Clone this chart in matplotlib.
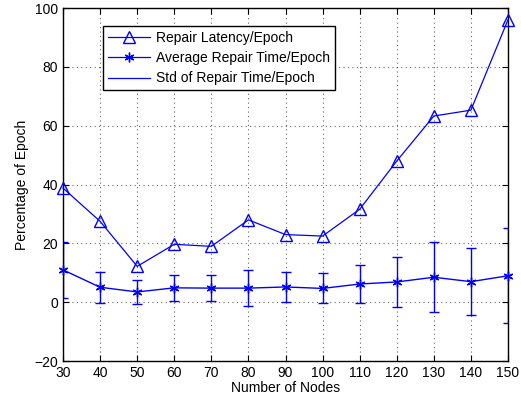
import matplotlib
matplotlib.use("Agg")
import matplotlib.pyplot as plt
from matplotlib.lines import Line2D

plt.rcParams['font.family'] = ['Liberation Sans', 'DejaVu Sans']

nodes = [30, 40, 50, 60, 70, 80, 90, 100, 110, 120, 130, 140, 150]
latency = [38.8, 27.5, 12.2, 19.7, 19.0, 28.0, 23.0, 22.5, 31.6, 48.0, 63.3, 65.3, 96.0]
avg_time = [11.0, 5.1, 3.5, 4.9, 4.8, 4.8, 5.2, 4.7, 6.2, 6.9, 8.5, 7.0, 9.0]
std_time = [9.5, 5.2, 4.2, 4.4, 4.4, 6.0, 5.0, 5.1, 6.4, 8.6, 11.9, 11.3, 16.2]

fig = plt.figure(figsize=(5.21, 4.03), dpi=100)
ax = fig.add_axes([0.121, 0.104, 0.854, 0.876])

blue = '#0000ff'
asterisk = (6, 2, 0)
ax.errorbar(nodes, avg_time, yerr=std_time, fmt='none', ecolor=blue,
            elinewidth=1.0, capsize=3.5, capthick=1.0, zorder=2)
ax.plot(nodes, avg_time, color=blue, marker=asterisk, markersize=7, lw=1.0,
        zorder=3, clip_on=False)
ax.plot(nodes, latency, color=blue, marker='^', markersize=8, mfc='none',
        mec=blue, lw=0.9, zorder=3, clip_on=False)

ax.set_xlim(30, 150)
ax.set_ylim(-20, 100)
ax.set_xticks(nodes)
ax.set_yticks(range(-20, 101, 20))
ax.tick_params(direction='in', top=True, right=True, labelsize=10, length=4)
ax.grid(True, linestyle=(0, (1, 3)), color='black', linewidth=0.8, alpha=0.6)
for s in ax.spines.values():
    s.set_linewidth(1.0)

ax.set_xlabel('Number of Nodes', fontsize=10, labelpad=1)
ax.set_ylabel('Percentage of Epoch', fontsize=10, labelpad=4)

handles = [
    Line2D([], [], color=blue, marker='^', mfc='none', markersize=8, lw=0.9),
    Line2D([], [], color=blue, marker=asterisk, markersize=7, lw=0.9),
    Line2D([], [], color=blue, lw=0.9),
]
labels = ['Repair Latency/Epoch', 'Average Repair Time/Epoch', 'Std of Repair Time/Epoch']
leg = ax.legend(handles, labels, loc='upper left', bbox_to_anchor=(0.09, 0.949),
                fontsize=10, frameon=True, fancybox=False, framealpha=1,
                edgecolor='black', borderpad=0.35, labelspacing=0.45,
                handlelength=3.0, handletextpad=0.45, borderaxespad=0)
leg.get_frame().set_linewidth(1.0)

fig.savefig('out.png', dpi=100)
